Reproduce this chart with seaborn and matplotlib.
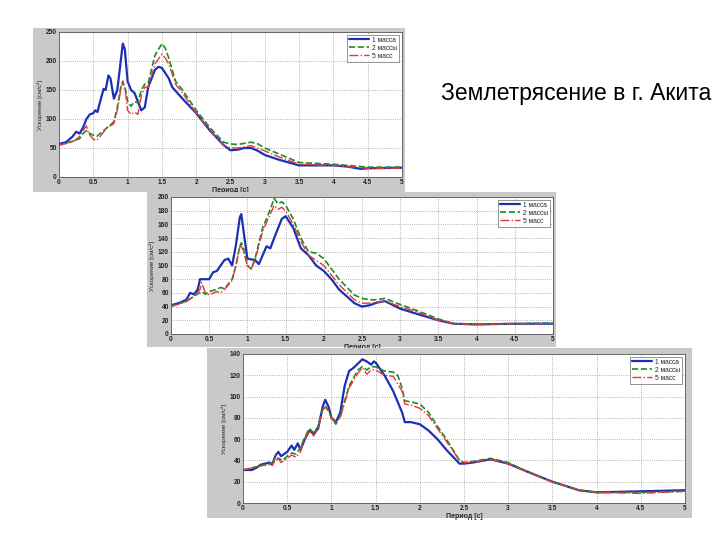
import numpy as np
import pandas as pd
import matplotlib
matplotlib.use("Agg")
import matplotlib.pyplot as plt
from matplotlib.patches import Rectangle
import seaborn as sns

sns.set_style("white")
plt.rcParams['font.family'] = ['Liberation Sans', 'DejaVu Sans']

series_names = ["1 масса", "2 массы", "5 масс"]
title_text = "Землетрясение в г. Акита"
x_label = "Период [с]"
y_label = "Ускорение [см/с²]"
x_ticks = [0, 0.5, 1, 1.5, 2, 2.5, 3, 3.5, 4, 4.5, 5]
x_tick_labels = ["0", "0.5", "1", "1.5", "2", "2.5", "3", "3.5", "4", "4.5", "5"]

# ---------- Panel 1 (0..250) ----------
p1_blue_x = [0, 0.1, 0.2, 0.25, 0.3, 0.35, 0.4, 0.45, 0.5, 0.53, 0.56, 0.6, 0.65, 0.68, 0.72, 0.75, 0.8, 0.85, 0.9, 0.93, 0.96, 1.0, 1.05, 1.1, 1.15, 1.2, 1.25, 1.3, 1.4, 1.45, 1.5, 1.6, 1.65, 1.8, 2.0, 2.2, 2.4, 2.5, 2.6, 2.7, 2.8, 2.9, 3.0, 3.2, 3.5, 4.0, 4.2, 4.4, 4.5, 5.0]
p1_blue_y = [57, 60, 70, 78, 75, 85, 100, 108, 110, 115, 112, 130, 152, 150, 175, 170, 135, 150, 200, 230, 220, 165, 150, 145, 130, 115, 120, 155, 185, 190, 188, 170, 155, 135, 110, 80, 55, 46, 47, 50, 50, 45, 38, 30, 20, 20, 18, 14, 15, 16]
p1_green_x = [0, 0.2, 0.3, 0.35, 0.4, 0.45, 0.5, 0.55, 0.6, 0.7, 0.8, 0.85, 0.9, 0.93, 0.97, 1.0, 1.05, 1.1, 1.15, 1.2, 1.25, 1.3, 1.4, 1.5, 1.55, 1.6, 1.7, 1.8, 2.0, 2.2, 2.4, 2.5, 2.6, 2.8, 2.9, 3.0, 3.2, 3.5, 4.0, 4.5, 5.0]
p1_green_y = [55, 62, 66, 75, 80, 75, 72, 70, 75, 85, 95, 120, 155, 165, 150, 130, 122, 130, 128, 150, 160, 162, 210, 230, 222, 205, 165, 150, 115, 85, 60, 57, 56, 60, 57, 50, 40, 25, 22, 17, 17]
p1_red_x = [0, 0.2, 0.3, 0.35, 0.4, 0.43, 0.5, 0.55, 0.6, 0.7, 0.8, 0.85, 0.9, 0.93, 0.97, 1.0, 1.05, 1.1, 1.15, 1.2, 1.25, 1.3, 1.4, 1.5, 1.55, 1.6, 1.7, 1.8, 2.0, 2.2, 2.4, 2.5, 2.6, 2.8, 3.0, 3.2, 3.5, 4.0, 4.5, 5.0]
p1_red_y = [55, 60, 70, 80, 88, 75, 65, 63, 70, 85, 92, 115, 150, 165, 145, 115, 108, 112, 108, 140, 155, 155, 195, 212, 205, 195, 160, 145, 110, 80, 55, 50, 50, 54, 45, 35, 22, 20, 15, 15]
p1_yticks = [0, 50, 100, 150, 200, 250]

# ---------- Panel 2 (0..200) ----------
p2_blue_x = [0, 0.1, 0.2, 0.25, 0.3, 0.35, 0.38, 0.45, 0.5, 0.55, 0.6, 0.65, 0.7, 0.75, 0.8, 0.85, 0.9, 0.92, 0.95, 1.0, 1.1, 1.15, 1.2, 1.25, 1.3, 1.35, 1.45, 1.5, 1.6, 1.7, 1.8, 1.9, 2.0, 2.1, 2.2, 2.4, 2.5, 2.6, 2.7, 2.8, 3.0, 3.2, 3.5, 3.7, 4.0, 4.5, 5.0]
p2_blue_y = [42, 45, 50, 60, 58, 65, 80, 80, 80, 90, 92, 100, 108, 110, 100, 130, 170, 175, 150, 110, 108, 102, 115, 128, 125, 140, 168, 172, 155, 125, 115, 100, 92, 80, 65, 45, 40, 42, 46, 48, 37, 30, 20, 15, 14, 15, 15]
p2_green_x = [0, 0.2, 0.3, 0.4, 0.45, 0.5, 0.6, 0.65, 0.7, 0.8, 0.85, 0.9, 0.92, 0.95, 1.0, 1.05, 1.1, 1.2, 1.3, 1.35, 1.4, 1.45, 1.5, 1.6, 1.7, 1.8, 1.9, 2.0, 2.2, 2.4, 2.5, 2.6, 2.7, 2.8, 3.0, 3.2, 3.5, 3.7, 4.0, 4.5, 5.0]
p2_green_y = [41, 48, 55, 62, 58, 62, 65, 68, 66, 80, 100, 128, 133, 125, 100, 95, 110, 155, 182, 198, 190, 193, 188, 168, 140, 120, 118, 110, 80, 57, 52, 50, 50, 52, 43, 35, 22, 15, 14, 15, 16]
p2_red_x = [0, 0.2, 0.3, 0.38, 0.4, 0.45, 0.5, 0.6, 0.65, 0.7, 0.8, 0.85, 0.9, 0.92, 0.95, 1.0, 1.05, 1.1, 1.2, 1.3, 1.35, 1.4, 1.45, 1.5, 1.6, 1.7, 1.8, 2.0, 2.2, 2.4, 2.5, 2.6, 2.8, 3.0, 3.2, 3.5, 3.7, 4.0, 4.5, 5.0]
p2_red_y = [40, 47, 55, 65, 75, 60, 57, 62, 60, 65, 78, 100, 127, 128, 120, 100, 95, 108, 150, 175, 188, 182, 185, 180, 160, 135, 115, 100, 72, 50, 45, 45, 48, 40, 33, 20, 15, 14, 15, 15]
p2_yticks = [0, 20, 40, 60, 80, 100, 120, 140, 160, 180, 200]

# ---------- Panel 3 (0..140) ----------
p3_blue_x = [0, 0.1, 0.15, 0.2, 0.3, 0.33, 0.37, 0.4, 0.43, 0.5, 0.55, 0.58, 0.62, 0.65, 0.7, 0.75, 0.8, 0.85, 0.9, 0.93, 0.97, 1.0, 1.05, 1.1, 1.15, 1.2, 1.25, 1.3, 1.35, 1.4, 1.45, 1.48, 1.5, 1.6, 1.7, 1.8, 1.83, 1.9, 2.0, 2.1, 2.2, 2.3, 2.45, 2.5, 2.6, 2.8, 3.0, 3.2, 3.5, 3.8, 4.0, 4.5, 5.0]
p3_blue_y = [31, 31, 33, 36, 38, 36, 45, 48, 44, 48, 54, 50, 56, 50, 60, 68, 65, 70, 90, 97, 90, 80, 76, 85, 110, 124, 127, 131, 135, 133, 130, 133, 132, 120, 105, 85, 76, 76, 74, 68, 60, 50, 37, 37, 38, 41, 37, 30, 20, 12, 10, 11, 12]
p3_green_x = [0, 0.2, 0.3, 0.35, 0.4, 0.45, 0.5, 0.55, 0.6, 0.65, 0.7, 0.75, 0.8, 0.85, 0.9, 0.93, 0.97, 1.0, 1.05, 1.1, 1.2, 1.3, 1.35, 1.4, 1.45, 1.5, 1.6, 1.7, 1.75, 1.8, 1.83, 1.9, 2.0, 2.1, 2.2, 2.3, 2.45, 2.5, 2.6, 2.8, 3.0, 3.2, 3.5, 3.8, 4.0, 4.5, 5.0]
p3_green_y = [31, 35, 37, 38, 42, 40, 44, 47, 46, 52, 62, 70, 66, 72, 88, 91, 87, 80, 74, 82, 110, 125, 128, 125, 128, 128, 124, 123, 120, 108, 96, 95, 93, 85, 72, 60, 40, 38, 39, 42, 38, 30, 20, 12, 10, 10, 11]
p3_red_x = [0, 0.2, 0.3, 0.33, 0.37, 0.4, 0.43, 0.5, 0.55, 0.6, 0.65, 0.7, 0.75, 0.8, 0.85, 0.9, 0.93, 0.97, 1.0, 1.05, 1.1, 1.2, 1.3, 1.35, 1.4, 1.45, 1.5, 1.6, 1.7, 1.8, 1.83, 1.9, 2.0, 2.1, 2.2, 2.3, 2.45, 2.5, 2.6, 2.8, 3.0, 3.2, 3.5, 3.8, 4.0, 4.5, 5.0]
p3_red_y = [31, 35, 36, 35, 45, 42, 38, 42, 45, 43, 48, 60, 68, 63, 70, 87, 90, 86, 80, 76, 80, 108, 122, 127, 121, 125, 125, 120, 119, 105, 93, 92, 89, 82, 70, 58, 40, 38, 38, 41, 37, 30, 20, 12, 10, 9, 11]
p3_yticks = [0, 20, 40, 60, 80, 100, 120, 140]

W, H = 720, 540
fig = plt.figure(figsize=(7.2, 5.4), dpi=100)
fig.patch.set_facecolor("white")

colors = ["#1c2fb5", "#1f8a24", "#e2383a"]
styles = ["-", "--", "-."]
widths = [1.6, 1.2, 1.0]

def px_rect(x0, y0, x1, y1):
    return [x0 / W, 1 - y1 / H, (x1 - x0) / W, (y1 - y0) / H]

panels = [
    dict(frame=(33, 28, 405, 192), axes=(59, 32, 402, 177), yticks=p1_yticks,
         data=[(p1_blue_x, p1_blue_y), (p1_green_x, p1_green_y), (p1_red_x, p1_red_y)]),
    dict(frame=(147, 192, 556, 347), axes=(171, 197, 553, 334), yticks=p2_yticks,
         data=[(p2_blue_x, p2_blue_y), (p2_green_x, p2_green_y), (p2_red_x, p2_red_y)]),
    dict(frame=(207, 348, 692, 518), axes=(243, 354, 685, 503), yticks=p3_yticks,
         data=[(p3_blue_x, p3_blue_y), (p3_green_x, p3_green_y), (p3_red_x, p3_red_y)]),
]

z = 1.0
for p in panels:
    fx0, fy0, fx1, fy1 = p["frame"]
    r = px_rect(fx0, fy0, fx1, fy1)
    fig.patches.append(Rectangle((r[0], r[1]), r[2], r[3], transform=fig.transFigure,
                                 facecolor="#c9c9c9", edgecolor="none", zorder=z))
    ax = fig.add_axes(px_rect(*p["axes"]))
    ax.set_zorder(z + 0.5)
    z += 1.0
    ax.set_facecolor("white")
    for (xs, ys), name, c, ls, lw in zip(p["data"], series_names, colors, styles, widths):
        df = pd.DataFrame({"x": xs, "y": ys})
        sns.lineplot(data=df, x="x", y="y", ax=ax, color=c, linestyle=ls, linewidth=lw,
                     label=name, sort=True)
    ax.set_xlim(0, 5)
    ax.set_ylim(p["yticks"][0], p["yticks"][-1])
    ax.set_xticks(x_ticks)
    ax.set_xticklabels(x_tick_labels)
    ax.set_yticks(p["yticks"])
    ax.tick_params(axis="both", labelsize=4.8, direction="in", length=2, width=0.5, pad=1.5,
                   colors="#222222")
    for lab in ax.get_xticklabels() + ax.get_yticklabels():
        lab.set_fontweight("bold")
    ax.grid(True, linestyle=":", color="#9a9a9a", linewidth=0.6)
    for s in ax.spines.values():
        s.set_color("#555555")
        s.set_linewidth(0.6)
    ax.set_xlabel(x_label, fontsize=5, fontweight="bold", labelpad=1)
    ax.set_ylabel(y_label, fontsize=4.5, labelpad=2)
    leg = ax.legend(loc="upper right", fontsize=4.8, frameon=True, fancybox=False,
                    handlelength=3, borderpad=0.3, labelspacing=0.15, handletextpad=0.5,
                    borderaxespad=0.4)
    leg.get_frame().set_edgecolor("#444444")
    leg.get_frame().set_linewidth(0.5)

fig.text(441 / W, 1 - 93 / H, title_text, fontsize=16.5, ha="left", va="center", color="black")

fig.savefig("out.png", dpi=100)
